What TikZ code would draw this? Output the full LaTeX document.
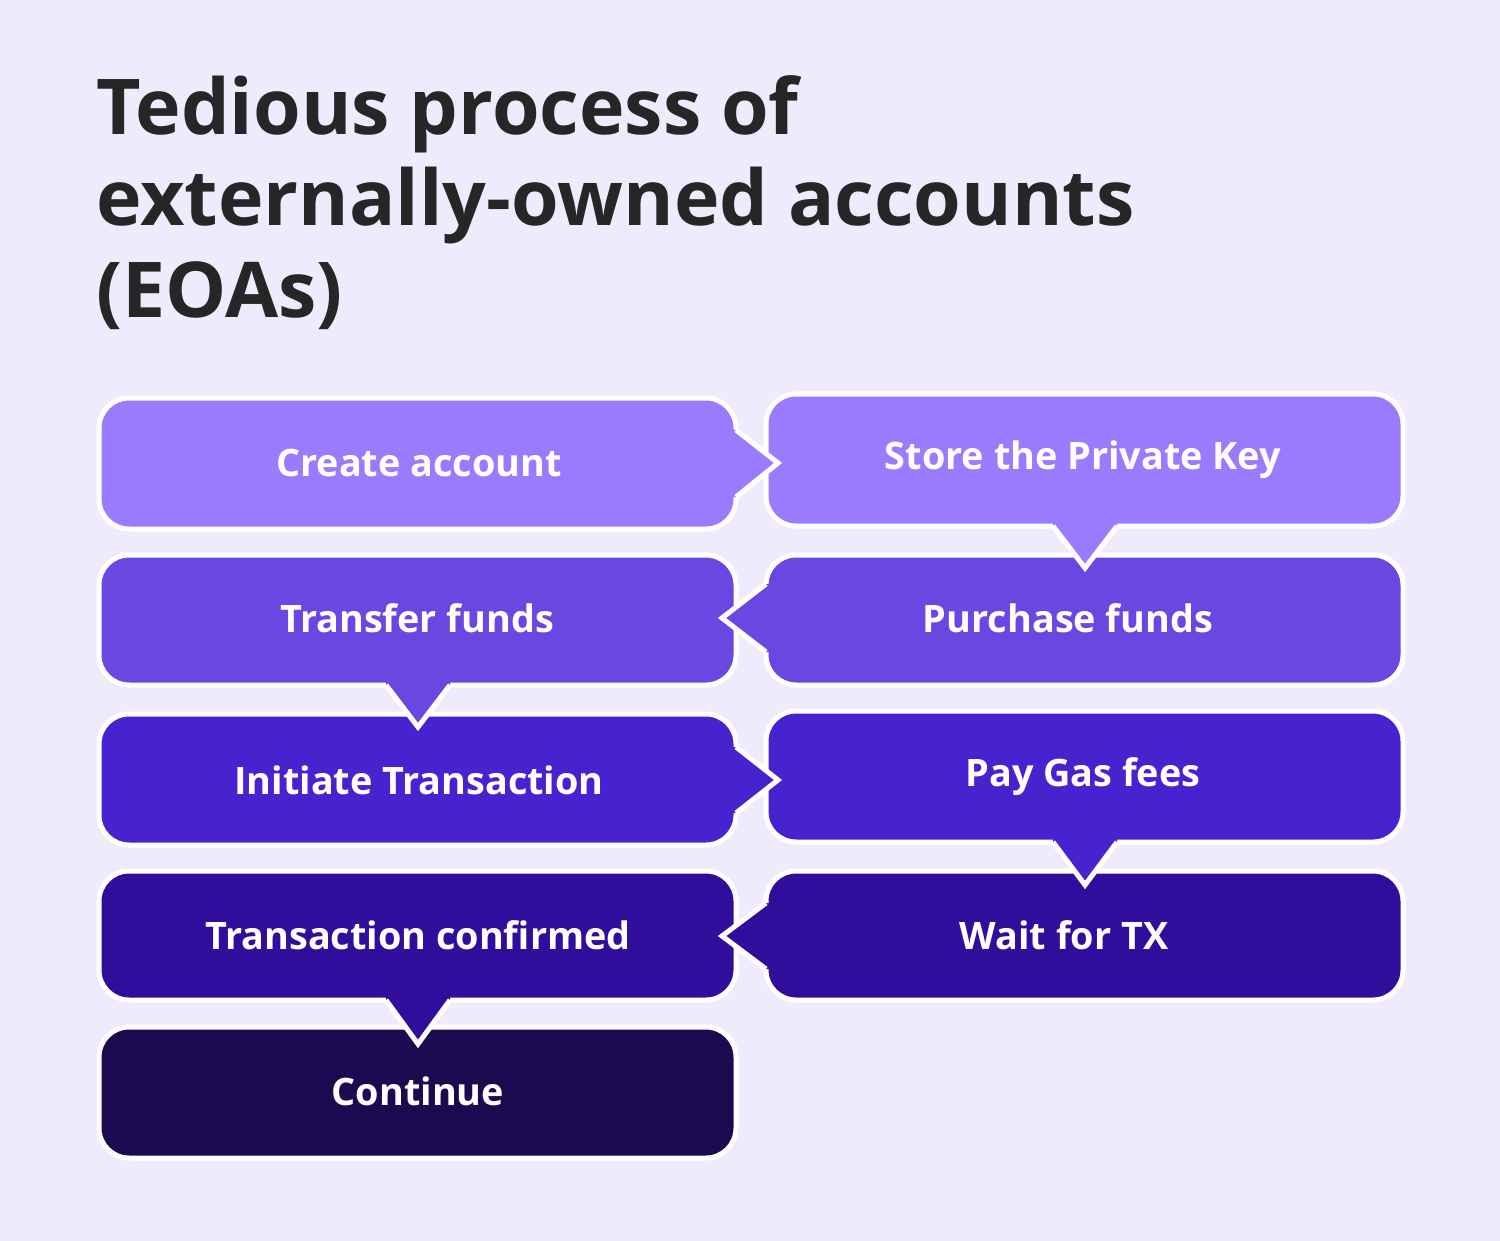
\documentclass[tikz,border=0pt]{standalone}
\usepackage{fontspec}
\setmainfont{Open Sans}
\definecolor{bg}{HTML}{EFEBFC}
\definecolor{ttl}{HTML}{262626}
\definecolor{ca}{HTML}{9A7BFE}
\definecolor{cb}{HTML}{6A47E0}
\definecolor{cc}{HTML}{4722CF}
\definecolor{cd}{HTML}{300D9B}
\definecolor{ce}{HTML}{1B0A4F}
\tikzset{
  boxst/.style={draw=white, line width=2.5pt, rounded corners=15pt},
  ptr/.style={draw=white, line width=2.5pt, line join=miter},
  lbl/.style={text=white, font=\fontsize{18.9}{22}\selectfont\bfseries, inner sep=0pt},
  ttlst/.style={text=ttl, font=\fontsize{38.5}{46}\selectfont\bfseries, inner sep=0pt, anchor=base west}
}
\begin{document}
\begin{tikzpicture}[x=0.5pt,y=-0.5pt]
\useasboundingbox[fill=bg] (0,0) rectangle (1500,1241);
% title
\node[ttlst] (t1) at (96,135) {Tedious process of};
\node[ttlst] (t2) at (96,226) {externally-owned accounts};
\node[ttlst] (t3) at (96,318) {(EOAs)};
% Continue
\path[boxst, fill=ce] (99,1027) rectangle (736,1158);
% Transaction confirmed
\path[boxst, fill=cd] (99,871) rectangle (736,1000);
\fill[cd] (386,994) -- (418,994) -- (450,994) -- (450,1000) -- (418,1044) -- (386,1000) -- cycle;
\draw[ptr] (386,1000) -- (418,1044) -- (450,1000);
% Wait for TX
\path[boxst, fill=cd] (766,871) rectangle (1403,1000);
\fill[cd] (772,903) -- (772,969) -- (766,969) -- (722,936) -- (766,903) -- cycle;
\draw[ptr] (766,903) -- (722,936) -- (766,969);
% Pay Gas fees
\path[boxst, fill=cc] (766,711) rectangle (1403,842);
\fill[cc] (1053,836) -- (1117,836) -- (1117,842) -- (1085,885) -- (1053,842) -- cycle;
\draw[ptr] (1053,842) -- (1085,885) -- (1117,842);
% Initiate Transaction
\path[boxst, fill=cc] (99,714) rectangle (736,845);
\fill[cc] (730,747) -- (730,813) -- (736,813) -- (778,780) -- (736,747) -- cycle;
\draw[ptr] (736,747) -- (778,780) -- (736,813);
% Transfer funds
\path[boxst, fill=cb] (99,555) rectangle (736,685);
\fill[cb] (386,679) -- (450,679) -- (450,685) -- (418,727) -- (386,685) -- cycle;
\draw[ptr] (386,685) -- (418,727) -- (450,685);
% Purchase funds
\path[boxst, fill=cb] (766,555) rectangle (1403,685);
\fill[cb] (772,584) -- (772,652) -- (766,652) -- (722,618) -- (766,584) -- cycle;
\draw[ptr] (766,584) -- (722,618) -- (766,652);
% Store the Private Key
\path[boxst, fill=ca] (766,394) rectangle (1403,526);
\fill[ca] (1053,520) -- (1117,520) -- (1117,526) -- (1085,568) -- (1053,526) -- cycle;
\draw[ptr] (1053,526) -- (1085,568) -- (1117,526);
% Create account
\path[boxst, fill=ca] (99,398) rectangle (736,529);
\fill[ca] (730,430) -- (730,497) -- (736,497) -- (778,463) -- (736,430) -- cycle;
\draw[ptr] (736,430) -- (778,463) -- (736,497);
% labels
\node[lbl] (n1) at (419,463) {Create account};
\node[lbl] (n2) at (1083,460) {Store the Private Key};
\node[lbl] (n3) at (1068,618) {Purchase funds};
\node[lbl] (n4) at (417,618) {Transfer funds};
\node[lbl] (n5) at (419,780) {Initiate Transaction};
\node[lbl] (n6) at (1083,777) {Pay Gas fees};
\node[lbl] (n7) at (1064,935) {Wait for TX};
\node[lbl] (n8) at (418,935) {Transaction confirmed};
\node[lbl] (n9) at (418,1091) {Continue};
\end{tikzpicture}
\end{document}
